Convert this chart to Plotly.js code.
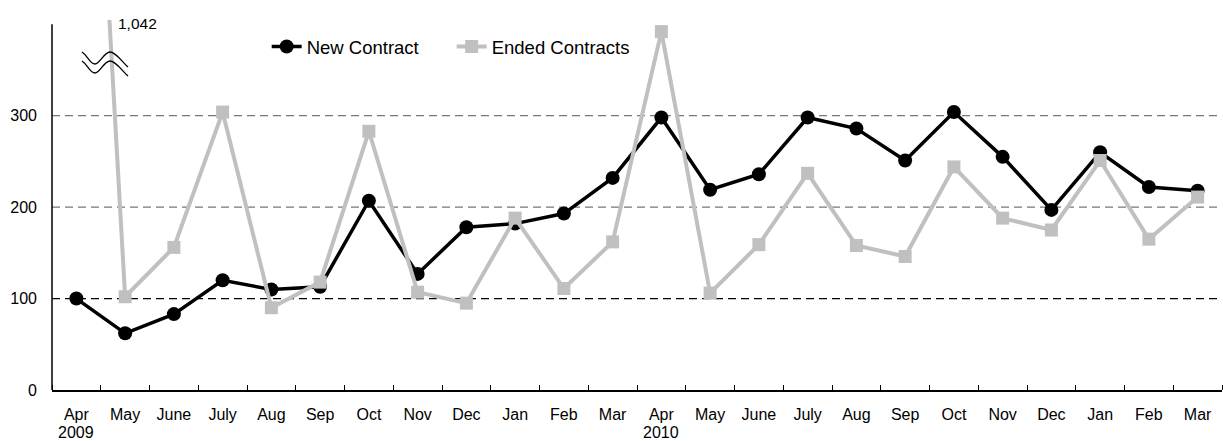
<!DOCTYPE html>
<html><head><meta charset="utf-8">
<script src="https://cdn.plot.ly/plotly-3.0.1.min.js"></script>
<style>html,body{margin:0;padding:0;background:#fff}#chart{width:1223px;height:441px}</style>
</head><body><div id="chart"></div>
<script>
// ---- data ----
const months = ['Apr','May','June','July','Aug','Sep','Oct','Nov','Dec','Jan','Feb','Mar','Apr','May','June','July','Aug','Sep','Oct','Nov','Dec','Jan','Feb','Mar'];
const years = ['2009','','','','','','','','','','','','2010','','','','','','','','','','',''];
const newContract = [100,62,83,120,110,113,207,127,178,182,193,232,298,219,236,298,286,251,304,255,197,260,222,218];
const endedContracts = [1042,102,156,304,90,118,283,107,95,188,111,162,392,106,159,237,158,146,244,188,175,251,165,211];
const yTicks = [0,100,200,300];
const outlierLabel = '1,042';

// ---- helpers ----
const idx = months.map((m, i) => i);
const L = 52, R = 1222, T = 20, B = 390, W = 1223, H = 441;
const px = v => (v - L) / (R - L);
const py = v => (B - v) / (B - T);
const yMax = 404.7;
const FONT = 'Liberation Sans, Arial, sans-serif';

function wave(dy) {
  const p = (x, y) => px(x).toFixed(5) + ',' + py(y + dy).toFixed(5);
  return 'M' + p(82,52) + ' C' + p(88,56) + ' ' + p(90,64) + ' ' + p(95,64) +
         ' C' + p(100,64) + ' ' + p(104,52) + ' ' + p(110,52) +
         ' C' + p(116,52) + ' ' + p(122,62) + ' ' + p(128,67);
}

const traces = [
  {x: idx, y: newContract, name: 'New Contract', type: 'scatter', mode: 'lines+markers',
   line: {color: '#000000', width: 3.5}, marker: {symbol: 'circle', size: 14, color: '#000000'}},
  {x: idx, y: endedContracts, name: 'Ended Contracts', type: 'scatter', mode: 'lines+markers',
   line: {color: '#c0c0c0', width: 4}, marker: {symbol: 'square', size: 13, color: '#c0c0c0'}}
];

const gridShape = (v, color) => ({type: 'line', xref: 'paper', x0: 0, x1: 1, yref: 'y', y0: v, y1: v,
  line: {color: color, width: 1.2, dash: '8px,5px'}, layer: 'below'});

const yearAnnotations = years.map((yr, i) => yr ? {
  xref: 'x', yref: 'paper', x: i, y: py(432), text: yr, showarrow: false,
  font: {size: 16, family: FONT, color: '#000'}, xanchor: 'center', yanchor: 'middle'
} : null).filter(a => a);

const layout = {
  width: W, height: H,
  margin: {l: L, r: W - R, t: T, b: H - B, pad: 0},
  paper_bgcolor: '#fff', plot_bgcolor: '#fff',
  font: {family: FONT, size: 16, color: '#000'},
  showlegend: true,
  legend: {orientation: 'h', x: 0.1835, xanchor: 'left', y: py(47), yanchor: 'middle',
           font: {size: 18.5, family: FONT}, bgcolor: 'rgba(0,0,0,0)', traceorder: 'normal',
           entrywidth: 140, entrywidthmode: 'pixels'},
  xaxis: {range: [-0.5, 23.5], tickmode: 'array', tickvals: idx, ticktext: months,
          ticks: '', showgrid: false, zeroline: false, showline: true, linecolor: '#000', linewidth: 1.5,
          tickfont: {size: 16, family: FONT}, ticklabelstandoff: 9,
          minor: {ticks: 'inside', tick0: -0.5, dtick: 1, ticklen: 5, tickcolor: '#000', tickwidth: 1, showgrid: false}},
  yaxis: {range: [0, yMax], tickmode: 'array', tickvals: yTicks, ticks: '', showgrid: false,
          zeroline: false, showline: false, tickfont: {size: 16, family: FONT}, ticklabelstandoff: 14},
  shapes: [
    gridShape(yTicks[1], '#000000'),
    gridShape(yTicks[2], '#777777'),
    gridShape(yTicks[3], '#777777'),
    {type: 'line', xref: 'paper', x0: 0, x1: 0, yref: 'y', y0: 0, y1: 400, line: {color: '#000', width: 1.5}},
    {type: 'path', xref: 'paper', yref: 'paper', path: wave(0), line: {color: '#000', width: 1.3}},
    {type: 'path', xref: 'paper', yref: 'paper', path: wave(9), line: {color: '#000', width: 1.3}}
  ],
  annotations: [
    {xref: 'paper', yref: 'paper', x: px(137), y: py(23.5), text: outlierLabel, showarrow: false,
     font: {size: 15.5, family: FONT, color: '#000'}, xanchor: 'center', yanchor: 'middle'}
  ].concat(yearAnnotations)
};

Plotly.newPlot('chart', traces, layout, {displayModeBar: false, staticPlot: true});
</script>
</body></html>
